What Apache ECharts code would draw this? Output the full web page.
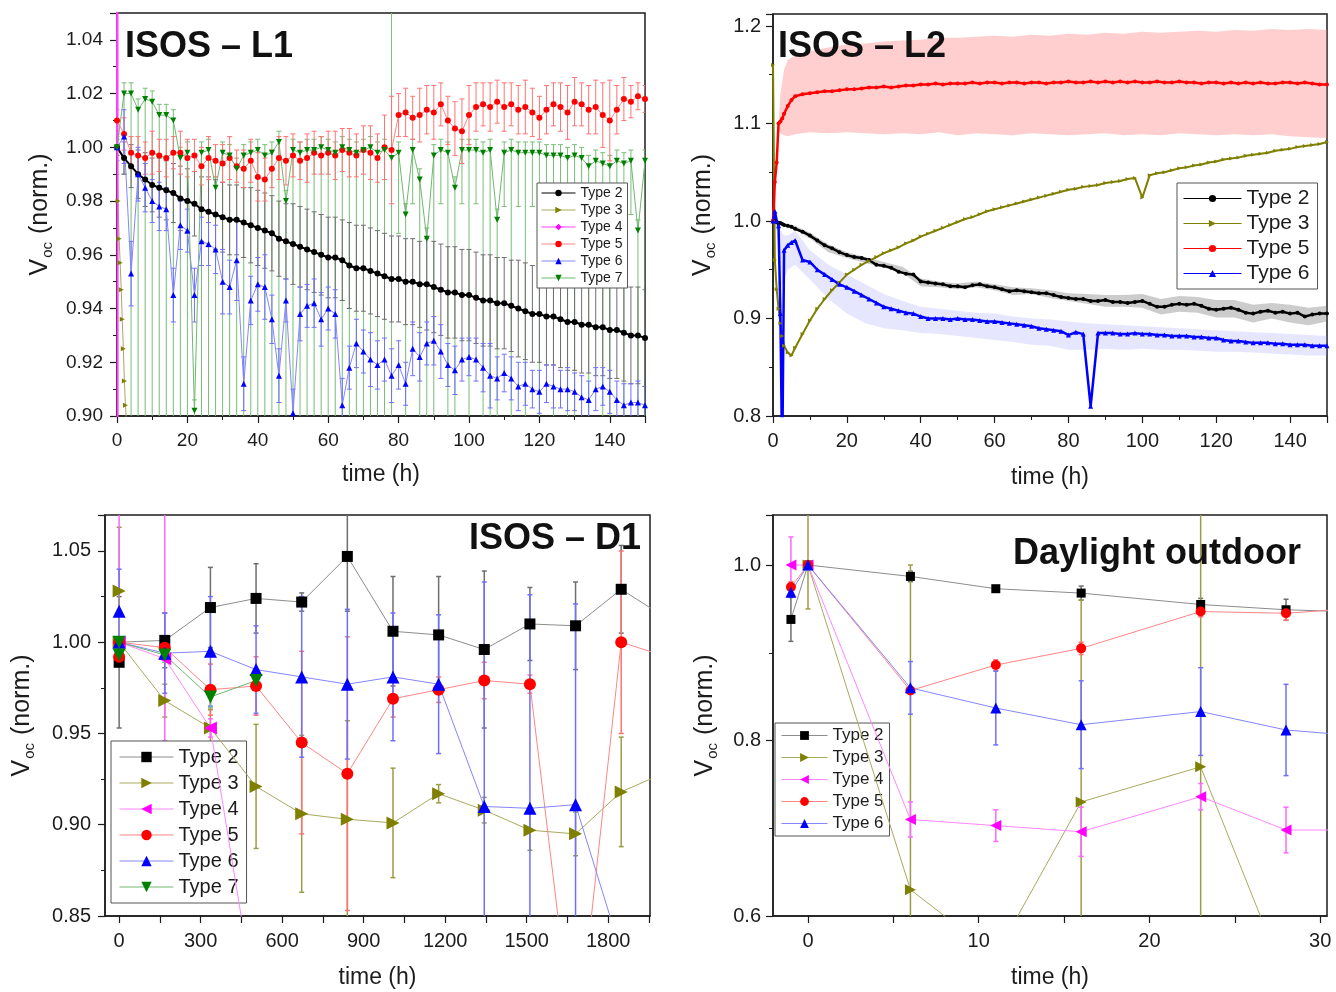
<!DOCTYPE html>
<html>
<head>
<meta charset="utf-8">
<title>Voc (norm.) under ISOS-L1, L2, D1 and daylight outdoor</title>
<script src="https://cdn.jsdelivr.net/npm/echarts@6/dist/echarts.min.js"></script>
<style>
  html, body { margin: 0; padding: 0; background: #fff; }
  #main { width: 1336px; height: 992px; }
</style>
</head>
<body>
<div id="main"></div>
<script>
// ---------------- ISOS - L1 (top left) ----------------
var l1Time = [
  0, 2, 4, 6, 8, 10, 12, 14, 16, 18,
  20, 22, 24, 26, 28, 30, 32, 34, 36, 38,
  40, 42, 44, 46, 48, 50, 52, 54, 56, 58,
  60, 62, 64, 66, 68, 70, 72, 74, 76, 78,
  80, 82, 84, 86, 88, 90, 92, 94, 96, 98,
  100, 102, 104, 106, 108, 110, 112, 114, 116, 118,
  120, 122, 124, 126, 128, 130, 132, 134, 136, 138,
  140, 142, 144, 146, 148, 150
];
var l1Type2 = [
  1.000, 0.996, 0.993, 0.990, 0.988, 0.986, 0.985, 0.984, 0.983, 0.981,
  0.980, 0.979, 0.977, 0.976, 0.975, 0.974, 0.973, 0.973, 0.972, 0.971,
  0.970, 0.969, 0.968, 0.966, 0.965, 0.964, 0.963, 0.962, 0.961, 0.960,
  0.959, 0.959, 0.958, 0.956, 0.955, 0.955, 0.954, 0.953, 0.952, 0.951,
  0.951, 0.950, 0.950, 0.949, 0.949, 0.948, 0.947, 0.946, 0.946, 0.945,
  0.945, 0.944, 0.943, 0.943, 0.942, 0.942, 0.941, 0.940, 0.939, 0.938,
  0.938, 0.937, 0.937, 0.936, 0.935, 0.935, 0.934, 0.934, 0.933, 0.933,
  0.932, 0.932, 0.931, 0.930, 0.930, 0.929
];
var l1Err2 = [
  0.003, 0.006, 0.008, 0.009, 0.010, 0.010, 0.011, 0.011, 0.011, 0.012,
  0.012, 0.012, 0.012, 0.013, 0.013, 0.013, 0.013, 0.013, 0.013, 0.014,
  0.014, 0.014, 0.014, 0.014, 0.014, 0.015, 0.015, 0.015, 0.015, 0.015,
  0.015, 0.015, 0.015, 0.016, 0.016, 0.016, 0.016, 0.016, 0.016, 0.016,
  0.016, 0.016, 0.016, 0.016, 0.017, 0.017, 0.017, 0.017, 0.017, 0.017,
  0.017, 0.017, 0.017, 0.017, 0.017, 0.017, 0.017, 0.018, 0.018, 0.018,
  0.018, 0.018, 0.018, 0.018, 0.018, 0.018, 0.018, 0.018, 0.018, 0.018,
  0.018, 0.018, 0.018, 0.018, 0.018, 0.018
];
var l1Type5 = [
  1.010, 1.005, 0.998, 0.997, 0.996, 0.998, 0.997, 0.996, 0.998, 0.998,
  0.996, 0.997, 0.993, 0.996, 0.995, 0.994, 0.996, 0.993, 0.992, 0.995,
  0.989, 0.988, 0.992, 0.996, 0.995, 0.997, 0.995, 0.996, 0.998, 0.997,
  0.998, 0.997, 0.999, 0.998, 0.997, 0.999, 0.998, 0.996, 1.000, 0.999,
  1.012, 1.013, 1.011, 1.012, 1.014, 1.013, 1.016, 1.010, 1.007, 1.006,
  1.012, 1.015, 1.016, 1.015, 1.017, 1.015, 1.016, 1.014, 1.015, 1.013,
  1.011, 1.014, 1.016, 1.015, 1.013, 1.017, 1.016, 1.014, 1.015, 1.012,
  1.010, 1.014, 1.018, 1.017, 1.019, 1.018
];
var l1Err5 = [
  0.004, 0.006, 0.006, 0.007, 0.006, 0.008, 0.006, 0.007, 0.006, 0.008,
  0.007, 0.006, 0.007, 0.008, 0.006, 0.007, 0.008, 0.006, 0.007, 0.008,
  0.009, 0.008, 0.007, 0.008, 0.009, 0.008, 0.007, 0.009, 0.008, 0.007,
  0.008, 0.009, 0.008, 0.009, 0.008, 0.009, 0.010, 0.009, 0.012, 0.020,
  0.008, 0.009, 0.008, 0.010, 0.009, 0.010, 0.008, 0.009, 0.010, 0.012,
  0.011, 0.009, 0.008, 0.009, 0.008, 0.009, 0.008, 0.009, 0.010, 0.009,
  0.008, 0.009, 0.008, 0.009, 0.010, 0.009, 0.008, 0.009, 0.010, 0.012,
  0.015, 0.009, 0.008, 0.006, 0.005, 0.005
];
var l1Type6 = [
  1.000, 1.004, 0.953, 0.990, 0.985, 0.980, 0.978, 0.977, 0.945, 0.971,
  0.969, 0.945, 0.965, 0.964, 0.962, 0.950, 0.948, 0.958, 0.912, 0.943,
  0.949, 0.948, 0.936, 0.915, 0.943, 0.901, 0.938, 0.941, 0.942, 0.936,
  0.940, 0.938, 0.904, 0.918, 0.927, 0.924, 0.921, 0.919, 0.921, 0.915,
  0.919, 0.912, 0.925, 0.922, 0.927, 0.928, 0.924, 0.919, 0.917, 0.921,
  0.922, 0.921, 0.918, 0.915, 0.914, 0.916, 0.914, 0.911, 0.912, 0.910,
  0.909, 0.912, 0.911, 0.910, 0.910, 0.909, 0.907, 0.906, 0.910, 0.911,
  0.909, 0.906, 0.904, 0.905, 0.905, 0.904
];
var l1Err6 = [
  0.005, 0.010, 0.012, 0.010, 0.009, 0.008, 0.009, 0.008, 0.010, 0.009,
  0.008, 0.010, 0.009, 0.008, 0.009, 0.012, 0.010, 0.015, 0.010, 0.009,
  0.010, 0.012, 0.009, 0.010, 0.008, 0.009, 0.010, 0.008, 0.009, 0.010,
  0.008, 0.009, 0.010, 0.008, 0.009, 0.008, 0.010, 0.009, 0.008, 0.010,
  0.009, 0.008, 0.010, 0.009, 0.008, 0.009, 0.010, 0.008, 0.009, 0.008,
  0.007, 0.008, 0.009, 0.012, 0.008, 0.007, 0.008, 0.009, 0.008, 0.007,
  0.008, 0.007, 0.008, 0.007, 0.008, 0.007, 0.008, 0.007, 0.008, 0.007,
  0.008, 0.007, 0.008, 0.007, 0.008, 0.007
];
var l1Type7 = [
  1.000, 1.020, 1.020, 1.014, 1.018, 1.017, 1.012, 1.012, 1.010, 0.996,
  0.998, 0.902, 0.998, 0.999, 0.985, 0.998, 0.997, 0.992, 0.997, 0.998,
  0.999, 0.997, 0.998, 1.002, 0.980, 0.999, 0.998, 0.999, 0.999, 1.000,
  0.999, 0.998, 1.000, 0.999, 0.998, 0.999, 1.000, 0.998, 0.999, 0.996,
  0.998, 0.975, 0.999, 0.988, 0.966, 0.997, 0.999, 0.998, 0.985, 0.999,
  0.999, 0.999, 0.998, 0.999, 0.973, 0.998, 0.999, 0.998, 0.998, 0.998,
  0.998, 0.997, 0.997, 0.997, 0.996, 0.997, 0.996, 0.993, 0.995, 0.994,
  0.993, 0.995, 0.994, 0.995, 0.969, 0.995
];
var l1Err7Lo = [
  0.010, 0.030, 0.150, 0.150, 0.150, 0.150, 0.150, 0.150, 0.150, 0.150,
  0.150, 0.150, 0.150, 0.150, 0.150, 0.150, 0.150, 0.150, 0.150, 0.150,
  0.150, 0.150, 0.150, 0.150, 0.150, 0.150, 0.150, 0.150, 0.150, 0.150,
  0.150, 0.150, 0.150, 0.150, 0.150, 0.150, 0.150, 0.150, 0.150, 0.150,
  0.030, 0.150, 0.020, 0.150, 0.150, 0.150, 0.020, 0.150, 0.150, 0.020,
  0.150, 0.020, 0.150, 0.150, 0.150, 0.020, 0.150, 0.020, 0.150, 0.020,
  0.150, 0.020, 0.150, 0.020, 0.150, 0.150, 0.020, 0.150, 0.020, 0.150,
  0.150, 0.020, 0.150, 0.020, 0.150, 0.150
];
var l1Err7Hi = [
  0.004, 0.004, 0.004, 0.004, 0.004, 0.004, 0.004, 0.004, 0.004, 0.004,
  0.004, 0.004, 0.004, 0.004, 0.004, 0.004, 0.004, 0.004, 0.004, 0.004,
  0.004, 0.004, 0.004, 0.004, 0.004, 0.004, 0.004, 0.004, 0.004, 0.004,
  0.004, 0.004, 0.004, 0.004, 0.004, 0.004, 0.004, 0.004, 0.004, 0.060,
  0.004, 0.004, 0.004, 0.004, 0.004, 0.004, 0.004, 0.004, 0.004, 0.004,
  0.004, 0.004, 0.004, 0.004, 0.004, 0.004, 0.004, 0.004, 0.004, 0.004,
  0.004, 0.004, 0.004, 0.004, 0.004, 0.004, 0.004, 0.004, 0.004, 0.004,
  0.004, 0.004, 0.004, 0.004, 0.004, 0.004
];
var l1T3Time = [0, 0.3, 0.6, 0.9, 1.2, 1.5, 1.8, 2.1, 2.4, 2.7, 3.0];
var l1Type3 = [1.000, 0.980, 0.966, 0.957, 0.947, 0.936, 0.925, 0.913, 0.904, 0.898, 0.880];
var l1T4Time = [0, 0.1, 0.2];
var l1Type4 = [1.000, 1.200, 0.850];

// ---------------- ISOS - L2 (top right) ----------------
var l2Time = [
  0, 0.5, 1, 1.5, 2, 2.5, 3, 4, 5, 6,
  8, 10, 12, 14, 16, 18, 20, 22, 24, 26,
  28, 30, 32, 34, 36, 38, 40, 42, 44, 46,
  48, 50, 52, 54, 56, 58, 60, 62, 64, 66,
  68, 70, 72, 74, 76, 78, 80, 82, 84, 86,
  88, 90, 92, 94, 96, 98, 100, 102, 104, 106,
  108, 110, 112, 114, 116, 118, 120, 122, 124, 126,
  128, 130, 132, 134, 136, 138, 140, 142, 144, 146,
  148, 150
];
var l2Type2 = [
  1.000, 1.000, 0.999, 0.998, 0.998, 0.997, 0.996, 0.995, 0.994, 0.992,
  0.989, 0.985, 0.980, 0.975, 0.972, 0.968, 0.965, 0.963, 0.962, 0.960,
  0.955, 0.954, 0.952, 0.948, 0.946, 0.945, 0.938, 0.937, 0.936, 0.935,
  0.933, 0.933, 0.932, 0.934, 0.935, 0.933, 0.932, 0.930, 0.928, 0.929,
  0.928, 0.927, 0.926, 0.926, 0.924, 0.922, 0.921, 0.920, 0.920, 0.918,
  0.918, 0.919, 0.917, 0.917, 0.916, 0.917, 0.918, 0.915, 0.912, 0.912,
  0.914, 0.915, 0.914, 0.915, 0.913, 0.910, 0.909, 0.910, 0.911, 0.909,
  0.906, 0.905, 0.907, 0.908, 0.906, 0.907, 0.905, 0.906, 0.902, 0.904,
  0.905, 0.905
];
var l2Type3 = [
  1.160, 0.960, 0.930, 0.910, 0.895, 0.882, 0.872, 0.865, 0.862, 0.870,
  0.884, 0.898, 0.910, 0.920, 0.929, 0.937, 0.945, 0.950, 0.955, 0.959,
  0.963, 0.967, 0.970, 0.973, 0.977, 0.980, 0.984, 0.987, 0.990, 0.993,
  0.996, 0.999, 1.002, 1.004, 1.007, 1.010, 1.012, 1.014, 1.016, 1.018,
  1.020, 1.022, 1.024, 1.026, 1.028, 1.030, 1.032, 1.033, 1.035, 1.036,
  1.037, 1.039, 1.040, 1.041, 1.043, 1.044, 1.024, 1.047, 1.049, 1.050,
  1.052, 1.054, 1.055, 1.057, 1.058, 1.060, 1.061, 1.063, 1.064, 1.065,
  1.067, 1.068, 1.069, 1.070, 1.072, 1.073, 1.074, 1.076, 1.077, 1.078,
  1.079, 1.081
];
var l2Type5 = [
  1.000, 1.040, 1.060, 1.100, 1.102, 1.105, 1.110, 1.118, 1.124, 1.128,
  1.130, 1.131, 1.132, 1.133, 1.133, 1.134, 1.135, 1.135, 1.136, 1.137,
  1.137, 1.138, 1.137, 1.138, 1.139, 1.139, 1.140, 1.140, 1.141, 1.140,
  1.141, 1.141, 1.141, 1.142, 1.141, 1.142, 1.142, 1.141, 1.142, 1.142,
  1.141, 1.142, 1.142, 1.141, 1.142, 1.142, 1.143, 1.142, 1.142, 1.143,
  1.142, 1.143, 1.142, 1.143, 1.142, 1.143, 1.142, 1.142, 1.143, 1.142,
  1.142, 1.143, 1.142, 1.142, 1.141, 1.142, 1.142, 1.141, 1.142, 1.141,
  1.142, 1.141, 1.142, 1.141, 1.141, 1.142, 1.142, 1.141, 1.142, 1.141,
  1.140, 1.140
];
var l2Type6 = [
  1.000, 1.010, 1.000, 0.995, 0.905, 0.750, 0.970, 0.975, 0.978, 0.980,
  0.960, 0.958, 0.950, 0.945, 0.940, 0.935, 0.932, 0.928, 0.924, 0.920,
  0.916, 0.912, 0.910, 0.908, 0.906, 0.905, 0.902, 0.900, 0.900, 0.900,
  0.899, 0.900, 0.899, 0.899, 0.898, 0.897, 0.897, 0.896, 0.895, 0.894,
  0.893, 0.892, 0.890, 0.889, 0.888, 0.887, 0.883, 0.886, 0.884, 0.810,
  0.885, 0.885, 0.885, 0.884, 0.884, 0.885, 0.884, 0.884, 0.883, 0.883,
  0.882, 0.882, 0.882, 0.881, 0.881, 0.880, 0.880, 0.878, 0.877, 0.877,
  0.876, 0.875, 0.875, 0.875, 0.874, 0.874, 0.873, 0.873, 0.873, 0.872,
  0.872, 0.872
];
var l2BandTime = [
  0, 1, 1.5, 2, 3, 4, 6, 10,
  15, 20, 25, 30, 35, 40, 45, 50, 55, 60,
  65, 70, 75, 80, 85, 90, 95, 100, 105, 110,
  115, 120, 125, 130, 135, 140, 145, 150
];
var l2Band5Hi = [
  1.000, 1.060, 1.100, 1.130, 1.155, 1.165, 1.170, 1.174,
  1.178, 1.181, 1.182, 1.184, 1.185, 1.186, 1.188, 1.188, 1.189, 1.190,
  1.189, 1.191, 1.190, 1.192, 1.191, 1.193, 1.192, 1.194, 1.193, 1.194,
  1.195, 1.194, 1.196, 1.195, 1.197, 1.196, 1.197, 1.196
];
var l2Band5Lo = [
  1.000, 1.060, 1.095, 1.090, 1.088, 1.087, 1.089, 1.091,
  1.090, 1.091, 1.090, 1.089, 1.090, 1.089, 1.091, 1.088, 1.090, 1.089,
  1.088, 1.090, 1.089, 1.088, 1.089, 1.090, 1.088, 1.089, 1.088, 1.090,
  1.089, 1.088, 1.089, 1.088, 1.089, 1.087, 1.086, 1.085
];
var l2Band2Hi = [
  1.000, 1.001, 1.000, 0.999, 0.998, 0.997, 0.995, 0.988,
  0.976, 0.968, 0.963, 0.958, 0.953, 0.941, 0.938, 0.936, 0.938, 0.935,
  0.932, 0.931, 0.929, 0.926, 0.925, 0.924, 0.924, 0.925, 0.920, 0.923,
  0.922, 0.919, 0.919, 0.914, 0.916, 0.914, 0.911, 0.913
];
var l2Band2Lo = [
  1.000, 0.999, 0.998, 0.997, 0.994, 0.993, 0.991, 0.982,
  0.968, 0.962, 0.957, 0.952, 0.947, 0.933, 0.932, 0.930, 0.932, 0.929,
  0.924, 0.925, 0.921, 0.918, 0.915, 0.912, 0.912, 0.911, 0.904, 0.907,
  0.906, 0.901, 0.901, 0.896, 0.900, 0.896, 0.893, 0.897
];
var l2Band6Hi = [
  1.000, 1.010, 1.000, 0.990, 0.985, 0.985, 0.990, 0.970,
  0.955, 0.945, 0.935, 0.925, 0.918, 0.912, 0.910, 0.908, 0.906, 0.905,
  0.902, 0.900, 0.899, 0.897, 0.895, 0.894, 0.893, 0.892, 0.891, 0.890,
  0.889, 0.888, 0.887, 0.886, 0.885, 0.884, 0.883, 0.882
];
var l2Band6Lo = [
  1.000, 0.990, 0.970, 0.930, 0.940, 0.950, 0.955, 0.940,
  0.920, 0.905, 0.895, 0.890, 0.888, 0.885, 0.884, 0.882, 0.880, 0.878,
  0.876, 0.873, 0.872, 0.868, 0.868, 0.869, 0.868, 0.869, 0.868, 0.868,
  0.867, 0.866, 0.866, 0.865, 0.864, 0.863, 0.862, 0.862
];

// ---------------- ISOS - D1 (bottom left) ----------------
var d1Time = [0, 0, 168, 336, 504, 672, 840, 1008, 1176, 1344, 1512, 1680, 1848, 2016];
var d1Type2 = [0.989, 1.000, 1.001, 1.019, 1.024, 1.022, 1.047, 1.006, 1.004, 0.996, 1.010, 1.009, 1.029, 1.013];
var d1Err2 = [0.036, 0, 0.015, 0.022, 0.019, 0.005, 0.030, 0.030, 0.032, 0.043, 0.020, 0.024, 0.024, 0];
var d1Type3 = [1.028, 1.000, 0.968, 0.953, 0.921, 0.906, 0.903, 0.901, 0.917, 0.908, 0.897, 0.895, 0.918, 0.929];
var d1Err3 = [0.035, 0, 0.009, 0.010, 0.034, 0.043, 0.054, 0.030, 0.005, 0.007, 0.011, 0.012, 0.030, 0];
var d1Type4 = [1.000, 1.000, 0.991, 0.953, 0.800];
var d1Err4Lo = [0.010, 0, 0.045, 0.005, 0];
var d1Err4Hi = [0.080, 0, 0.090, 0.005, 0];
var d1Type5 = [0.992, 1.000, 0.997, 0.974, 0.976, 0.945, 0.928, 0.969, 0.974, 0.979, 0.977, 0.770, 1.000, 0.992];
var d1Err5 = [0.004, 0, 0.004, 0.014, 0.016, 0.050, 0.075, 0.010, 0.007, 0.010, 0.005, 0, 0.050, 0];
var d1Type6 = [1.017, 1.000, 0.994, 0.995, 0.985, 0.981, 0.977, 0.981, 0.977, 0.910, 0.909, 0.911, 0.830];
var d1Err6 = [0.023, 0, 0.022, 0.030, 0.024, 0.044, 0.041, 0.035, 0.038, 0.123, 0.117, 0.110, 0];
var d1Type7 = [0.993, 1.000, 0.993, 0.970, 0.979];
var d1Err7 = [0.004, 0, 0.004, 0.006, 0.004];

// ---------------- Daylight outdoor (bottom right) ----------------
var dlTime = [-1, 0, 6, 11, 16, 23, 28, 33];
var dlType2 = [0.938, 1.000, 0.987, 0.973, 0.968, 0.955, 0.949, 0.946];
var dlErr2 = [0.025, 0, 0.006, 0.003, 0.008, 0.007, 0.012, 0];
var dlT3Time = [0, 6, 11, 16, 23, 28];
var dlType3 = [1.000, 0.630, 0.555, 0.730, 0.770, 0.527];
var dlErr3Lo = [0.050, 0.400, 0, 0.400, 0.400, 0];
var dlErr3Hi = [0.300, 0.370, 0, 0.230, 0.300, 0];
var dlType4 = [1.000, 1.000, 0.710, 0.703, 0.696, 0.736, 0.698, 0.698];
var dlErr4 = [0.032, 0, 0.020, 0.018, 0.028, 0.015, 0.026, 0];
var dlType5 = [0.975, 1.000, 0.857, 0.886, 0.905, 0.947, 0.945, 0.952];
var dlErr5 = [0.006, 0, 0.004, 0.006, 0.007, 0.006, 0.008, 0];
var dlType6 = [0.969, 1.000, 0.860, 0.837, 0.818, 0.833, 0.812, 0.804];
var dlErr6 = [0.004, 0, 0.030, 0.042, 0.050, 0.050, 0.052, 0];

// tick labels of the two bottom x axes (their ranges start off-grid)
var d1XLabels = [0, 300, 600, 900, 1200, 1500, 1800];
var d1XTicks = [0, 150, 300, 450, 600, 750, 900, 1050, 1200, 1350, 1500, 1650, 1800, 1950];
var dlXLabels = [0, 10, 20, 30];
var dlXTicks = [0, 5, 10, 15, 20, 25, 30];

// ---------------- styling ----------------
var INK = '#1c1c1c';
var FONT = '"Liberation Sans", Arial, Helvetica, sans-serif';
var TYPES = {
  2: { mark: '#000000', line: '#8c8c8c', err: '#6e6e6e' },
  3: { mark: '#7f7f00', line: '#a9a95e', err: '#9c9c45' },
  4: { mark: '#ff00ff', line: '#ff86ff', err: '#ff66ff' },
  5: { mark: '#ff0000', line: '#ff8585', err: '#ff7272' },
  6: { mark: '#0000ff', line: '#8585ff', err: '#6f6fff' },
  7: { mark: '#008000', line: '#6fb86f', err: '#78bd78' }
};
// series names must differ between panels so each legend picks its own series
var SUFFIX = ['', ' ', '  ', '   '];

function pairs(xs, ys) {
  var out = [];
  for (var i = 0; i < ys.length; i++) out.push([xs[i], ys[i]]);
  return out;
}
function bars(xs, ys, lo, hi) {
  var out = [];
  hi = hi || lo;
  for (var i = 0; i < ys.length; i++) {
    if (!lo[i] && !hi[i]) continue;
    out.push([xs[i], ys[i] - lo[i], ys[i] + hi[i]]);
  }
  return out;
}

function line(p, t, xs, ys, o) {
  var c = TYPES[t];
  return {
    name: 'Type ' + t + SUFFIX[p], type: 'line',
    xAxisIndex: p, yAxisIndex: p, data: pairs(xs, ys),
    symbol: o.symbol, symbolSize: o.size, symbolRotate: o.rotate || 0,
    itemStyle: { color: c.mark },
    lineStyle: { color: o.line || c.line, width: o.width || 1 },
    clip: true, silent: true, z: 5
  };
}

function errbar(p, t, xs, ys, lo, hi, cap, w) {
  var color = TYPES[t].err;
  return {
    type: 'custom', xAxisIndex: p, yAxisIndex: p, silent: true, clip: true, z: 2,
    data: bars(xs, ys, lo, hi), encode: { x: 0, y: [1, 2] },
    renderItem: function (params, api) {
      var x = api.value(0);
      var a = api.coord([x, api.value(1)]);
      var b = api.coord([x, api.value(2)]);
      var st = { stroke: color, lineWidth: w || 1 };
      return { type: 'group', children: [
        { type: 'line', shape: { x1: a[0], y1: a[1], x2: b[0], y2: b[1] }, style: st },
        { type: 'line', shape: { x1: a[0] - cap, y1: a[1], x2: a[0] + cap, y2: a[1] }, style: st },
        { type: 'line', shape: { x1: b[0] - cap, y1: b[1], x2: b[0] + cap, y2: b[1] }, style: st }
      ] };
    }
  };
}

function band(p, xs, lo, hi, fill) {
  return {
    type: 'custom', xAxisIndex: p, yAxisIndex: p, silent: true, clip: true, z: 1,
    data: [[xs[0], hi[0]]],
    renderItem: function (params, api) {
      var pts = [], i;
      for (i = 0; i < xs.length; i++) pts.push(api.coord([xs[i], hi[i]]));
      for (i = xs.length - 1; i >= 0; i--) pts.push(api.coord([xs[i], lo[i]]));
      return { type: 'polygon', shape: { points: pts }, style: { fill: fill } };
    }
  };
}

function xAx(i, o) {
  var ax = {
    gridIndex: i, type: 'value', min: o.min, max: o.max,
    axisLine: { onZero: false, lineStyle: { color: INK, width: 1.5 } },
    axisTick: { length: 7, lineStyle: { color: INK, width: 1.2 } },
    splitLine: { show: false },
    axisLabel: {
      fontSize: o.fs, color: INK, margin: 15, fontFamily: FONT,
      formatter: function (v) { return String(v); }
    },
    name: 'time (h)', nameLocation: 'middle', nameGap: o.gap,
    nameTextStyle: { fontSize: 23, color: INK, fontFamily: FONT }
  };
  if (o.interval) {
    ax.interval = o.interval;
    ax.axisLabel.showMaxLabel = false;
    ax.minorTick = { show: true, splitNumber: 2, length: 4, lineStyle: { color: INK } };
  } else {
    ax.axisLabel.customValues = o.labels;
    ax.axisTick.customValues = o.ticks;
  }
  return ax;
}

function yAx(i, o) {
  return {
    gridIndex: i, type: 'value', min: o.min, max: o.max, interval: o.interval,
    axisLine: { show: true, onZero: false, lineStyle: { color: INK, width: 1.5 } },
    axisTick: { show: true, length: 7, lineStyle: { color: INK, width: 1.2 } },
    minorTick: { show: true, splitNumber: 2, length: 4, lineStyle: { color: INK } },
    splitLine: { show: false },
    axisLabel: {
      fontSize: o.fs, color: INK, margin: o.margin, fontFamily: FONT, showMaxLabel: false,
      formatter: function (v) { return v.toFixed(o.dec); }
    },
    name: '{v|V}{s|oc}{v| (norm.)}', nameLocation: 'middle', nameGap: o.gap,
    nameTextStyle: {
      color: INK, fontFamily: FONT,
      rich: {
        v: { fontSize: 25, fontFamily: FONT, color: INK },
        s: { fontSize: 15, fontFamily: FONT, color: INK, verticalAlign: 'bottom', padding: [14, 1, 0, 1] }
      }
    }
  };
}

function legend(p, o) {
  var names = o.types.map(function (t) { return 'Type ' + t + SUFFIX[p]; });
  return {
    orient: 'vertical', left: o.left, top: o.top, data: names, selectedMode: false,
    itemWidth: o.iw, itemHeight: o.ih, itemGap: o.gap, padding: o.pad,
    borderColor: '#555', borderWidth: 1, backgroundColor: '#fff',
    lineStyle: { width: 1 },
    textStyle: { fontSize: o.fs, color: INK, fontFamily: FONT },
    formatter: function (n) { return n.trim(); }
  };
}

var frame = { show: true, borderColor: INK, borderWidth: 1.5, backgroundColor: 'transparent' };

var RIGHT = -90, LEFT = 90, DOWN = 180;

var series = [
  // ---- L1 ----
  errbar(0, 7, l1Time, l1Type7, l1Err7Lo, l1Err7Hi, 2.5, 1),
  errbar(0, 2, l1Time, l1Type2, l1Err2, null, 2.5, 1),
  errbar(0, 5, l1Time, l1Type5, l1Err5, null, 2.5, 1),
  errbar(0, 6, l1Time, l1Type6, l1Err6, null, 2.5, 1),
  line(0, 2, l1Time, l1Type2, { symbol: 'circle', size: 6, line: '#000', width: 2 }),
  line(0, 3, l1T3Time, l1Type3, { symbol: 'triangle', size: 5, rotate: RIGHT }),
  line(0, 4, l1T4Time, l1Type4, { symbol: 'diamond', size: 4, line: '#ff40ff', width: 2 }),
  line(0, 5, l1Time, l1Type5, { symbol: 'circle', size: 6 }),
  line(0, 6, l1Time, l1Type6, { symbol: 'triangle', size: 6 }),
  line(0, 7, l1Time, l1Type7, { symbol: 'triangle', size: 6, rotate: DOWN }),
  // ---- L2 ----
  band(1, l2BandTime, l2Band5Lo, l2Band5Hi, 'rgba(255,120,120,0.36)'),
  band(1, l2BandTime, l2Band2Lo, l2Band2Hi, 'rgba(110,110,110,0.35)'),
  band(1, l2BandTime, l2Band6Lo, l2Band6Hi, 'rgba(140,140,255,0.22)'),
  line(1, 2, l2Time, l2Type2, { symbol: 'circle', size: 4, line: '#000', width: 2.5 }),
  line(1, 3, l2Time, l2Type3, { symbol: 'triangle', size: 4, rotate: RIGHT, line: '#7f7f00', width: 2 }),
  line(1, 5, l2Time, l2Type5, { symbol: 'circle', size: 4, line: '#ff0000', width: 2.5 }),
  line(1, 6, l2Time, l2Type6, { symbol: 'triangle', size: 5, line: '#0000ff', width: 2.5 }),
  // ---- D1 ----
  errbar(2, 2, d1Time, d1Type2, d1Err2, null, 2.5, 1.5),
  errbar(2, 3, d1Time, d1Type3, d1Err3, null, 2.5, 1.5),
  errbar(2, 4, d1Time, d1Type4, d1Err4Lo, d1Err4Hi, 2.5, 1.5),
  errbar(2, 5, d1Time, d1Type5, d1Err5, null, 2.5, 1.5),
  errbar(2, 6, d1Time, d1Type6, d1Err6, null, 2.5, 1.5),
  errbar(2, 7, d1Time, d1Type7, d1Err7, null, 2.5, 1.5),
  line(2, 2, d1Time, d1Type2, { symbol: 'rect', size: 11 }),
  line(2, 3, d1Time, d1Type3, { symbol: 'triangle', size: 13, rotate: RIGHT }),
  line(2, 4, d1Time, d1Type4, { symbol: 'triangle', size: 13, rotate: LEFT }),
  line(2, 5, d1Time, d1Type5, { symbol: 'circle', size: 12 }),
  line(2, 6, d1Time, d1Type6, { symbol: 'triangle', size: 13 }),
  line(2, 7, d1Time, d1Type7, { symbol: 'triangle', size: 13, rotate: DOWN }),
  // ---- daylight outdoor ----
  errbar(3, 2, dlTime, dlType2, dlErr2, null, 2.5, 1.5),
  errbar(3, 3, dlT3Time, dlType3, dlErr3Lo, dlErr3Hi, 2.5, 1.5),
  errbar(3, 4, dlTime, dlType4, dlErr4, null, 2.5, 1.5),
  errbar(3, 5, dlTime, dlType5, dlErr5, null, 2.5, 1.5),
  errbar(3, 6, dlTime, dlType6, dlErr6, null, 2.5, 1.5),
  line(3, 2, dlTime, dlType2, { symbol: 'rect', size: 9 }),
  line(3, 3, dlT3Time, dlType3, { symbol: 'triangle', size: 11, rotate: RIGHT }),
  line(3, 4, dlTime, dlType4, { symbol: 'triangle', size: 11, rotate: LEFT }),
  line(3, 5, dlTime, dlType5, { symbol: 'circle', size: 10 }),
  line(3, 6, dlTime, dlType6, { symbol: 'triangle', size: 11 })
];

var titleStyle = { fontSize: 36, fontWeight: 'bold', color: '#111', fontFamily: FONT };

var option = {
  backgroundColor: '#fff',
  animation: false,
  textStyle: { fontFamily: FONT },
  title: [
    { text: 'ISOS – L1', left: 120, top: 24, textStyle: titleStyle },
    { text: 'ISOS – L2', left: 773, top: 24, textStyle: titleStyle },
    { text: 'ISOS – D1', right: 690, top: 516, textStyle: titleStyle },
    { text: 'Daylight outdoor', right: 30, top: 531, textStyle: titleStyle }
  ],
  grid: [
    Object.assign({ left: 117, top: 13, width: 528, height: 403 }, frame),
    Object.assign({ left: 773, top: 14, width: 554, height: 402 }, frame),
    Object.assign({ left: 105, top: 515, width: 545, height: 401 }, frame),
    Object.assign({ left: 773, top: 515, width: 554, height: 401 }, frame)
  ],
  xAxis: [
    xAx(0, { min: 0, max: 150, interval: 20, fs: 19, gap: 47 }),
    xAx(1, { min: 0, max: 150, interval: 20, fs: 20, gap: 50 }),
    xAx(2, { min: -52, max: 1954, labels: d1XLabels, ticks: d1XTicks, fs: 20, gap: 50 }),
    xAx(3, { min: -2.05, max: 30.4, labels: dlXLabels, ticks: dlXTicks, fs: 20, gap: 50 })
  ],
  yAxis: [
    yAx(0, { min: 0.9, max: 1.05, interval: 0.02, dec: 2, fs: 19, margin: 14, gap: 62 }),
    yAx(1, { min: 0.8, max: 1.2123, interval: 0.1, dec: 1, fs: 20, margin: 12, gap: 55 }),
    yAx(2, { min: 0.85, max: 1.0697, interval: 0.05, dec: 2, fs: 20, margin: 14, gap: 68 }),
    yAx(3, { min: 0.6, max: 1.057, interval: 0.2, dec: 1, fs: 20, margin: 12, gap: 53 })
  ],
  legend: [
    legend(0, { types: [2, 3, 4, 5, 6, 7], left: 537, top: 183, iw: 34, ih: 8, gap: 3, pad: [3, 5, 3, 4], fs: 14 }),
    legend(1, { types: [2, 3, 5, 6], left: 1177, top: 183, iw: 58, ih: 9, gap: 4, pad: [5, 8, 5, 6], fs: 21 }),
    legend(2, { types: [2, 3, 4, 5, 6, 7], left: 111, top: 741, iw: 54, ih: 13, gap: 6, pad: [6, 8, 6, 8], fs: 20 }),
    legend(3, { types: [2, 3, 4, 5, 6], left: 775, top: 723, iw: 46, ih: 11, gap: 5, pad: [4, 6, 4, 6], fs: 17 })
  ],
  series: series
};

var chart = echarts.init(document.getElementById('main'), null, { renderer: 'canvas' });
chart.setOption(option);
</script>
</body>
</html>
